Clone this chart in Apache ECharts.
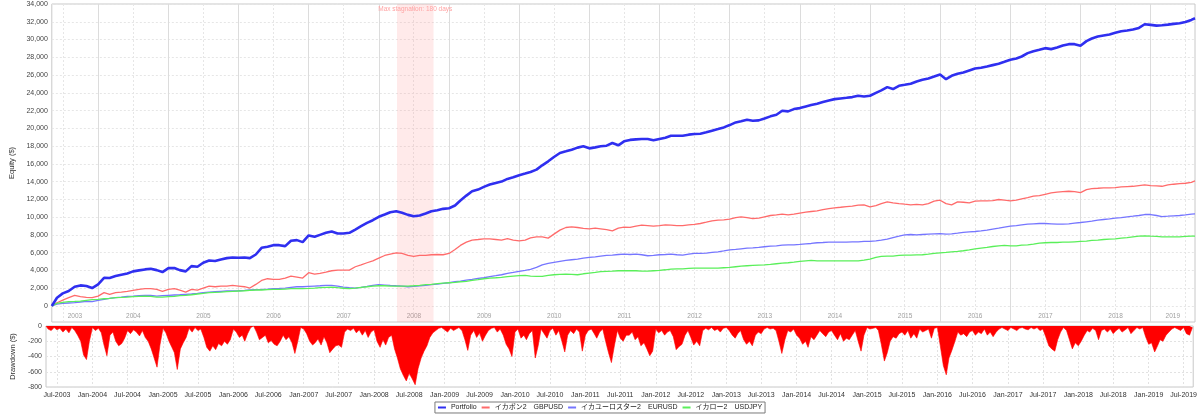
<!DOCTYPE html>
<html>
<head>
<meta charset="utf-8">
<title>Equity / Drawdown</title>
<script src="https://cdn.jsdelivr.net/npm/echarts@6.0.0/dist/echarts.min.js"></script>
<style>
  html, body { margin: 0; padding: 0; background: #fff; }
  #chart { width: 1200px; height: 418px; }
</style>
</head>
<body>
<div id="chart"></div>
<script>
// 期間
var startDate = '2003-05-05';
var endDate = '2019-08-20';
var stagnation = ['2008-04-05', '2008-10-12'];
var stagnationLabel = 'Max stagnation: 180 days';

var seriesNames = ['Portfolio', 'イカボン2　GBPUSD', 'イカユーロスター2　EURUSD', 'イカロー2　USDJPY'];

// 月次の資産 (開始日, 2003-06 .. 2019-08 の月初, 終了日)
var portfolio = [
  0, 936, 1420, 1690, 2170, 2320, 2250, 2020,
  2430, 3180, 3150, 3370, 3520, 3670, 3900, 4010, 4120, 4190, 4040, 3820,
  4270, 4270, 4040, 3900, 4490, 4420, 4870, 5130, 5060, 5240, 5390, 5470,
  5430, 5470, 5390, 5800, 6550, 6670, 6850, 6850, 6740, 7340, 7420, 7190,
  7940, 7790, 8010, 8240, 8390, 8160, 8160, 8240, 8610, 8990, 9360, 9660,
  10040, 10300, 10560, 10670, 10490, 10260, 10110, 10190, 10410, 10670, 10790, 10940,
  11010, 11310, 11870, 12430, 12920, 13110, 13410, 13670, 13860, 14010, 14310, 14490,
  14720, 14910, 15090, 15350, 15840, 16290, 16780, 17230, 17410, 17600, 17830, 17980,
  17750, 17860, 17980, 18050, 18350, 18090, 18540, 18700, 18760, 18800, 18800, 18650,
  18800, 18950, 19170, 19170, 19170, 19290, 19360, 19400, 19550, 19740, 19920, 20110,
  20370, 20670, 20790, 20970, 20860, 20900, 21120, 21350, 21530, 21980, 21910, 22170,
  22280, 22470, 22620, 22770, 22960, 23140, 23290, 23370, 23440, 23520, 23670, 23590,
  23670, 24000, 24270, 24640, 24420, 24790, 24900, 25020, 25280, 25470, 25620, 25840,
  26070, 25540, 25920, 26140, 26290, 26520, 26740, 26820, 26970, 27120, 27270, 27490,
  27720, 27870, 28090, 28470, 28690, 28840, 29030, 28920, 29100, 29330, 29480, 29480,
  29290, 29820, 30120, 30340, 30460, 30570, 30760, 30940, 31010, 31120, 31310, 31720,
  31650, 31570, 31610, 31680, 31760, 31830, 31980, 32210, 32390
];
var gbpusd = [
  0, 370, 670, 940, 1200, 1050, 970, 940,
  1120, 1500, 1310, 1500, 1570, 1650, 1760, 1870, 1950, 1950, 1870, 1650,
  1870, 1950, 1800, 1570, 1870, 1800, 2020, 2250, 2170, 2250, 2250, 2320,
  2250, 2170, 2020, 2430, 2880, 3070, 3000, 3000, 3150, 3370, 3260, 3150,
  3750, 3600, 3670, 3820, 3970, 4040, 4040, 4040, 4420, 4640, 4870, 5090,
  5390, 5690, 5840, 5990, 5920, 5690, 5580, 5690, 5690, 5770, 5800, 5770,
  5920, 6370, 6820, 7190, 7420, 7490, 7560, 7560, 7490, 7420, 7600, 7420,
  7340, 7420, 7680, 7790, 7790, 7640, 8090, 8540, 8840, 8910, 8840, 8730,
  8690, 8760, 8690, 8610, 8460, 8760, 8880, 8860, 8990, 9100, 9060, 8990,
  9060, 9140, 9100, 9060, 9060, 9140, 9180, 9290, 9440, 9590, 9660, 9700,
  9770, 9960, 10040, 9960, 9850, 9890, 10040, 10190, 10260, 10340, 10260, 10340,
  10450, 10560, 10640, 10710, 10860, 10970, 11050, 11120, 11200, 11240, 11350, 11390,
  11160, 11310, 11530, 11720, 11610, 11530, 11460, 11390, 11440, 11390, 11530, 11800,
  11910, 11530, 11390, 11720, 11680, 11610, 11800, 11840, 11840, 11870, 11990, 11910,
  11840, 11910, 12060, 12210, 12360, 12430, 12580, 12730, 12810, 12880, 12920, 12880,
  12770, 13110, 13220, 13260, 13300, 13300, 13330, 13410, 13450, 13480, 13560, 13630,
  13560, 13520, 13480, 13630, 13710, 13780, 13820, 13930, 14080
];
var eurusd = [
  0, 220, 300, 340, 370, 450, 520, 490,
  640, 750, 860, 940, 1010, 1090, 1120, 1160, 1200, 1200, 1120, 1160,
  1200, 1240, 1270, 1310, 1350, 1420, 1500, 1570, 1610, 1650, 1690, 1690,
  1720, 1760, 1800, 1840, 1870, 1910, 1950, 1980, 2020, 2100, 2170, 2170,
  2210, 2250, 2280, 2320, 2320, 2250, 2130, 2060, 2020, 2100, 2210, 2320,
  2400, 2360, 2320, 2280, 2250, 2170, 2210, 2280, 2320, 2400, 2470, 2550,
  2620, 2730, 2810, 2920, 3000, 3110, 3180, 3300, 3410, 3520, 3670, 3780,
  3900, 4010, 4120, 4340, 4640, 4790, 4910, 5020, 5130, 5210, 5280, 5390,
  5470, 5540, 5620, 5690, 5730, 5800, 5840, 5800, 5840, 5770, 5660, 5690,
  5770, 5800, 5840, 5770, 5730, 5840, 5920, 5920, 5950, 6030, 6100, 6210,
  6330, 6370, 6440, 6520, 6550, 6590, 6670, 6740, 6780, 6850, 6890, 6890,
  6930, 7000, 7040, 7120, 7150, 7190, 7190, 7190, 7190, 7230, 7230, 7270,
  7270, 7340, 7420, 7530, 7710, 7860, 8010, 8050, 8000, 8050, 8090, 8130,
  8160, 8090, 8130, 8200, 8280, 8350, 8390, 8460, 8540, 8650, 8760, 8880,
  8990, 9060, 9140, 9210, 9250, 9290, 9290, 9250, 9210, 9210, 9250, 9330,
  9400, 9480, 9550, 9660, 9740, 9810, 9890, 9960, 10040, 10110, 10190, 10300,
  10300, 10190, 10070, 10110, 10150, 10190, 10260, 10340, 10370
];
var usdjpy = [
  0, 300, 410, 490, 520, 560, 640, 710,
  750, 820, 860, 940, 970, 1010, 1050, 1090, 1120, 1090, 1010, 1010,
  1050, 1090, 1160, 1200, 1270, 1350, 1420, 1500, 1540, 1570, 1610, 1650,
  1690, 1720, 1760, 1800, 1800, 1840, 1870, 1870, 1910, 1950, 1950, 1950,
  1980, 2020, 2060, 2100, 2130, 2060, 2000, 1950, 2020, 2100, 2170, 2250,
  2280, 2280, 2250, 2250, 2250, 2250, 2280, 2320, 2400, 2430, 2510, 2580,
  2620, 2660, 2730, 2770, 2880, 2960, 3070, 3150, 3180, 3220, 3300, 3370,
  3410, 3450, 3370, 3330, 3330, 3450, 3520, 3560, 3600, 3560, 3520, 3630,
  3710, 3780, 3860, 3900, 3930, 3970, 3970, 3970, 3970, 3930, 3930, 3970,
  4010, 4080, 4160, 4190, 4190, 4230, 4270, 4270, 4270, 4270, 4270, 4310,
  4340, 4420, 4490, 4530, 4570, 4610, 4640, 4680, 4760, 4830, 4870, 4940,
  5020, 5090, 5130, 5090, 5090, 5090, 5090, 5090, 5090, 5090, 5090, 5170,
  5280, 5470, 5580, 5620, 5620, 5690, 5730, 5730, 5750, 5770, 5840, 5920,
  5990, 6030, 6100, 6140, 6220, 6330, 6440, 6520, 6590, 6700, 6780, 6820,
  6780, 6780, 6850, 6890, 6970, 7080, 7120, 7150, 7150, 7190, 7190, 7230,
  7270, 7300, 7380, 7420, 7490, 7530, 7560, 7640, 7710, 7790, 7860, 7900,
  7860, 7830, 7790, 7790, 7790, 7790, 7830, 7860, 7860
];

// ドローダウン (2003-05 .. 2019-08, 月に2点: 1日と16日)
var drawdown = [
  0, -40, -60, -20, -50, -30, -80, -40, -90, -20, -60, -120, -200, -380, -440, -200,
  -20, -60, -30, -90, -250, -390, -120, -80, -200, -260, -230, -160, -60, -100, -50, -80, -130, -60, -150, -200, -300, -420, -540, -250,
  -30, -90, -200, -280, -350, -570, -300, -220, -150, -30, -80, -20, -60, -40, -150, -280, -330, -260, -310, -230, -260, -200, -240, -180,
  -40, -80, -150, -120, -200, -100, -20, 0, -80, -180, -150, -120, -220, -190, -240, -260, -200, -120, -180, -140, -220, -360, -200, -20,
  -40, -100, -200, -250, -220, -170, -250, -140, -220, -350, -300, -260, -250, -280, -80, -40, -60, -30, -90, -50, -120, -60, -150, -80,
  -50, -200, -280, -180, -250, -150, -120, -300, -420, -560, -650, -720, -620, -690, -770, -560, -420, -330, -260, -150, -90, -60, -30, -20,
  -50, -80, -30, -60, -40, -20, -60, -180, -320, -120, -60, -150, -90, -200, -120, -60, -30, -20, -80, -40, -120, -240, -300, -400,
  -80, -40, -160, -120, -180, -100, -60, -420, -260, -40, -100, -160, -60, -30, -120, -60, -200, -340, -120, -60, -100, -40, -80, -330,
  -120, -60, -40, -100, -160, -80, -40, -200, -350, -480, -250, -60, -160, -200, -120, -120, -80, -180, -140, -260, -220, -300, -390, -330,
  -40, -90, -60, -120, -80, -60, -140, -310, -270, -240, -120, -60, -150, -250, -200, -260, -60, -30, -50, -20, -60, -40, -80, -30,
  -20, -60, -120, -160, -100, -60, -180, -240, -200, -260, -120, -80, -100, -40, -20, -40, -30, -60, -200, -360, -180, -60, -80, -40,
  -120, -160, -240, -200, -280, -140, -180, -120, -60, -100, -140, -80, -60, -120, -180, -100, -200, -160, -180, -120, -60, -200, -330, -120,
  -20, -40, -30, -20, -60, -240, -460, -350, -200, -140, -160, -100, -80, -120, -60, -160, -100, -160, -40, -80, -60, -40, -160, -30,
  -20, -260, -520, -640, -420, -320, -200, -80, -120, -100, -140, -80, -60, -120, -80, -100, -40, -120, -80, -140, -80, -40, -20, -40,
  -60, -20, -40, -60, -30, -20, -40, -50, -20, -40, -20, -60, -40, -140, -260, -300, -330, -180, -80, -20, -60, -180, -300, -220,
  -260, -200, -120, -60, -80, -30, -60, -180, -60, -40, -80, -40, -100, -60, -30, -80, -50, -20, -100, -60, -20, -40, -20, -140,
  -240, -220, -340, -260, -180, -200, -120, -80, -40, -20, -40, -60, -20, -100, -120, -20
];

// 目盛り
var equityTicks = [0, 2000, 4000, 6000, 8000, 10000, 12000, 14000, 16000, 18000,
  20000, 22000, 24000, 26000, 28000, 30000, 32000, 34000];
var tickMonths = [
  '2003-07', '2004-01', '2004-07', '2005-01', '2005-07', '2006-01', '2006-07',
  '2007-01', '2007-07', '2008-01', '2008-07', '2009-01', '2009-07', '2010-01',
  '2010-07', '2011-01', '2011-07', '2012-01', '2012-07', '2013-01', '2013-07',
  '2014-01', '2014-07', '2015-01', '2015-07', '2016-01', '2016-07', '2017-01',
  '2017-07', '2018-01', '2018-07', '2019-01', '2019-07'
];
var years = [2003, 2004, 2005, 2006, 2007, 2008, 2009, 2010, 2011,
  2012, 2013, 2014, 2015, 2016, 2017, 2018, 2019];

var MONTHS = ['Jan', 'Feb', 'Mar', 'Apr', 'May', 'Jun', 'Jul', 'Aug', 'Sep', 'Oct', 'Nov', 'Dec'];
var FONT = '"Liberation Sans", "Noto Sans CJK JP", sans-serif';

function ts(s) {
  var p = s.split('-');
  return Date.UTC(+p[0], +p[1] - 1, p[2] ? +p[2] : 1);
}

var tMin = ts(startDate);
var tMax = ts(endDate);

var equityDates = [tMin];
for (var i = 0; i < portfolio.length - 2; i++) {
  equityDates.push(Date.UTC(2003, 5 + i, 1));
}
equityDates.push(tMax);

var ddDates = drawdown.map(function (v, i) {
  return i === 0 ? tMin : Date.UTC(2003, 4 + Math.floor(i / 2), i % 2 ? 16 : 1);
});

function pairs(dates, vals) {
  return vals.map(function (v, i) { return [dates[i], v]; });
}

var halfYears = tickMonths.map(ts);
var janTicks = tickMonths.filter(function (m) { return /-01$/.test(m); }).map(ts);
var julTicks = tickMonths.filter(function (m) { return /-07$/.test(m); }).map(ts);
// 年ラベルは表示範囲内の各年の中央
var yearMids = years.map(function (y) {
  var a = Math.max(Date.UTC(y, 0, 1), tMin);
  var b = Math.min(Date.UTC(y + 1, 0, 1), tMax);
  return (a + b) / 2;
});

function lineSeries(name, data, color, width, z) {
  return {
    name: name,
    type: 'line',
    xAxisIndex: 0,
    yAxisIndex: 0,
    data: pairs(equityDates, data),
    symbol: 'none',
    silent: true,
    z: z,
    itemStyle: { color: color },
    lineStyle: { color: color, width: width }
  };
}

// 時間軸は値軸(ミリ秒)として扱う
function timeAxis(gridIndex, extra) {
  return Object.assign({
    gridIndex: gridIndex,
    type: 'value',
    min: tMin,
    max: tMax,
    scale: true,
    axisLine: { show: false },
    axisTick: { show: false },
    axisLabel: { show: false },
    splitLine: { show: false }
  }, extra);
}

var chart = echarts.init(document.getElementById('chart'), null, { renderer: 'canvas' });

var gbp = lineSeries(seriesNames[1], gbpusd, '#ff6b6b', 1.3, 2);
gbp.markArea = {
  silent: true,
  itemStyle: { color: 'rgba(255, 150, 150, 0.2)' },
  label: { show: true, position: 'insideTop', distance: 2, color: '#ffa3a3', fontSize: 6.5, fontFamily: FONT },
  data: [[{ name: stagnationLabel, xAxis: ts(stagnation[0]) }, { xAxis: ts(stagnation[1]) }]]
};

chart.setOption({
  animation: false,
  backgroundColor: '#fff',
  textStyle: { fontFamily: FONT },
  grid: [
    { left: 46, right: 5, top: 4, height: 318, show: true, borderColor: '#c8c8c8', borderWidth: 1 },
    { left: 46, right: 5, top: 326, height: 61, show: true, borderColor: '#c8c8c8', borderWidth: 1 }
  ],
  legend: {
    data: seriesNames,
    top: 402,
    left: 'center',
    icon: 'rect',
    itemWidth: 8,
    itemHeight: 2,
    itemGap: 5,
    padding: [2, 3, 2, 3],
    borderColor: '#7a7a7a',
    borderWidth: 1,
    textStyle: { fontSize: 7, color: '#222', fontFamily: FONT }
  },
  xAxis: [
    timeAxis(0, {
      axisTick: { show: false, customValues: janTicks },
      splitLine: { show: true, lineStyle: { color: '#dcdcdc', width: 1 } }
    }),
    timeAxis(0, {
      axisTick: { show: false, customValues: julTicks },
      splitLine: { show: true, lineStyle: { color: '#e6e6e6', type: [2, 2] } }
    }),
    timeAxis(0, {
      position: 'bottom',
      axisLabel: {
        show: true, inside: true, margin: 3, fontSize: 6.5, color: '#a0a0a0',
        customValues: yearMids,
        formatter: function (v) { return String(new Date(v).getUTCFullYear()); }
      }
    }),
    timeAxis(1, {
      axisTick: { show: false, customValues: halfYears },
      splitLine: { show: true, lineStyle: { color: '#e2e2e2', type: [2, 2] } },
      axisLabel: {
        show: true, margin: 5, fontSize: 7, color: '#333',
        customValues: halfYears,
        formatter: function (v) {
          var d = new Date(v);
          return MONTHS[d.getUTCMonth()] + '-' + d.getUTCFullYear();
        }
      }
    })
  ],
  yAxis: [
    {
      gridIndex: 0, type: 'value', min: -1800, max: 34000,
      name: 'Equity ($)', nameLocation: 'middle', nameGap: 29,
      nameTextStyle: { fontSize: 7.5, color: '#333' },
      axisLine: { show: false },
      axisTick: { show: false, customValues: equityTicks },
      splitLine: { show: true, lineStyle: { color: '#e6e6e6', type: [2, 2] } },
      axisLabel: {
        margin: 4, fontSize: 7, color: '#444',
        customValues: equityTicks,
        formatter: function (v) { return v.toLocaleString('en-US'); }
      }
    },
    {
      gridIndex: 1, type: 'value', min: -800, max: 0, interval: 200,
      name: 'Drawdown ($)', nameLocation: 'middle', nameGap: 21,
      nameTextStyle: { fontSize: 7.5, color: '#333' },
      axisLine: { show: false },
      axisTick: { show: false },
      splitLine: { show: true, lineStyle: { color: '#e2e2e2', type: [2, 2] } },
      axisLabel: { margin: 4, fontSize: 7, color: '#444' }
    }
  ],
  series: [
    gbp,
    lineSeries(seriesNames[2], eurusd, '#7676ff', 1.3, 2),
    lineSeries(seriesNames[3], usdjpy, '#5aef5a', 1.3, 2),
    lineSeries(seriesNames[0], portfolio, '#2f2ff0', 2.6, 3),
    {
      name: 'Drawdown',
      type: 'line',
      xAxisIndex: 3,
      yAxisIndex: 1,
      data: pairs(ddDates, drawdown),
      symbol: 'none',
      silent: true,
      lineStyle: { color: '#ff0000', width: 0.6 },
      areaStyle: { color: '#ff0000', opacity: 1 }
    }
  ]
});
</script>
</body>
</html>
